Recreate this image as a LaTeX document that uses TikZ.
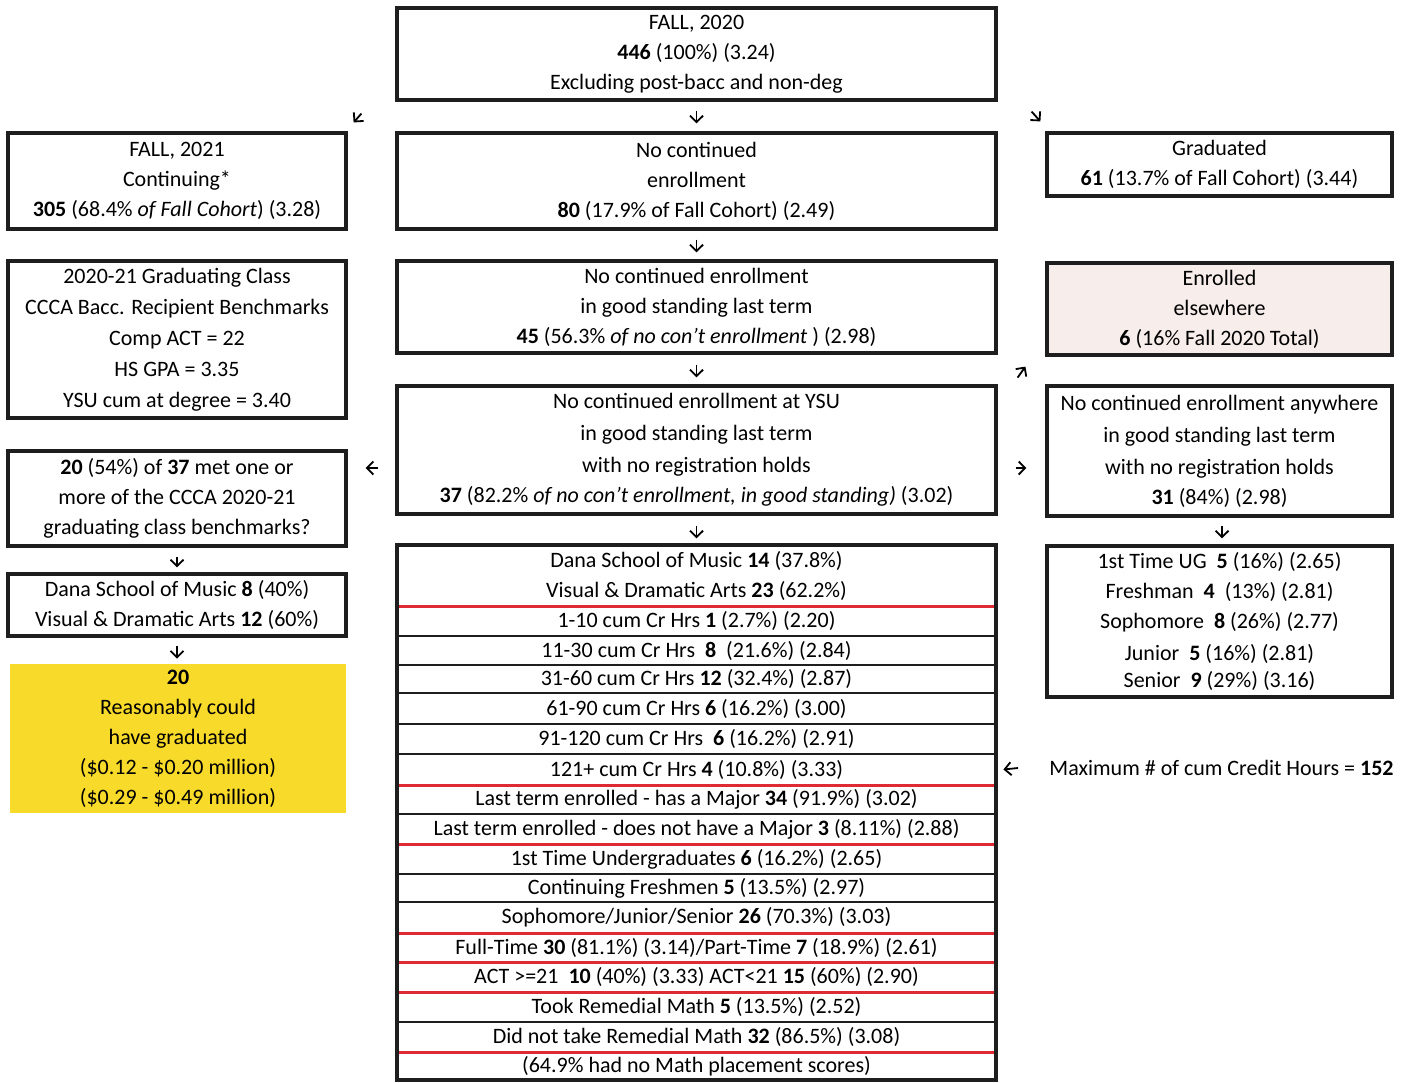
\documentclass[tikz,border=0pt]{standalone}
\usepackage{fontspec}
\setmainfont{Carlito}
\usetikzlibrary{arrows.meta}

\definecolor{boxline}{HTML}{1E1E1E}
\definecolor{sepred}{HTML}{DE2A33}
\definecolor{hilite}{HTML}{F8DA2A}
\definecolor{blush}{HTML}{F7EDEA}

\begin{document}
\begin{tikzpicture}[
  x=0.5pt, y=-0.5pt,
  font=\fontsize{11}{15}\selectfont,
  box/.style={draw=boxline, line width=1.6pt, align=center, inner sep=0pt},
  lbox/.style={box, minimum width=169pt},
  cbox/.style={box, minimum width=299.5pt},
  rbox/.style={box, minimum width=172.5pt},
  row/.style={align=center, inner sep=0pt, minimum width=299.5pt},
  blacksep/.style={draw=boxline, line width=1pt},
  redsep/.style={draw=sepred, line width=1.6pt},
  arr/.style={line width=0.9pt, -{Straight Barb[length=3.2pt, width=6.5pt]}}
]
\useasboundingbox (0,0) rectangle (1408,1082);

% cohort at the top
\node[cbox, minimum height=46pt] (top) at (696.5,54)
  {FALL, 2020\\ \textbf{446} (100\%) (3.24)\\ Excluding post-bacc and non-deg};

% second row
\node[lbox, minimum height=48pt] (cont) at (177,181)
  {FALL, 2021\\ Continuing*\\ \textbf{305} (68.4\% \textit{of Fall Cohort}) (3.28)};
\node[cbox, minimum height=48pt] (noc) at (696.5,181)
  {No continued\\ enrollment\\ \textbf{80} (17.9\% of Fall Cohort) (2.49)};
\node[rbox, minimum height=31.5pt] (grad) at (1219.5,164.5)
  {Graduated\\ \textbf{61} (13.7\% of Fall Cohort) (3.44)};

% third row
\node[lbox, minimum height=78.5pt] (bench) at (177,339.5)
  {2020-21 Graduating Class\\[0.5pt] CCCA Bacc. Recipient Benchmarks\\[0.5pt]
   Comp ACT = 22\\[0.5pt] HS GPA = 3.35\\[0.5pt] YSU cum at degree = 3.40};
\node[cbox, minimum height=46pt] (ngs) at (696.5,307)
  {No continued enrollment\\ in good standing last term\\
   \textbf{45} (56.3\% \textit{of no con't enrollment} ) (2.98)};
\node[rbox, minimum height=46pt, fill=blush] (else) at (1219.5,309)
  {Enrolled\\ elsewhere\\ \textbf{6} (16\% Fall 2020 Total)};

% fourth row
\node[lbox, minimum height=47.5pt] (meet) at (177,498.5)
  {\textbf{20} (54\%) of \textbf{37} met one or\\ more of the CCCA 2020-21\\
   graduating class benchmarks?};
\node[cbox, minimum height=64pt] (ysu) at (696.5,450)
  {No continued enrollment at YSU\\[1pt] in good standing last term\\[1pt]
   with no registration holds\\
   \textbf{37} (82.2\% \textit{of no con't enrollment, in good standing)} (3.02)};
\node[rbox, minimum height=65pt] (any) at (1219.5,451)
  {No continued enrollment anywhere\\[1pt] in good standing last term\\[1pt]
   with no registration holds\\ \textbf{31} (84\%) (2.98)};

% left column, lower part
\node[lbox, minimum height=31pt] (dana) at (177,605)
  {Dana School of Music \textbf{8} (40\%)\\ Visual \& Dramatic Arts \textbf{12} (60\%)};
\node[align=center, inner sep=0pt, fill=hilite, minimum width=168pt,
  minimum height=74.5pt] (could) at (178,738.5)
  {\textbf{20}\\ Reasonably could\\ have graduated\\
   (\$0.12 - \$0.20 million)\\ (\$0.29 - \$0.49 million)};

% right column, lower part
\node[rbox, minimum height=75.5pt] (grades) at (1219.5,621.5)
  {1st Time UG~ \textbf{5} (16\%) (2.65)\\ Freshman~ \textbf{4}~ (13\%) (2.81)\\
   Sophomore~ \textbf{8} (26\%) (2.77)\\[1pt] Junior~ \textbf{5} (16\%) (2.81)\\[-1.5pt]
   Senior~ \textbf{9} (29\%) (3.16)};
\node[anchor=east, inner sep=0pt] (maxhrs) at (1394,768)
  {Maximum \# of cum Credit Hours = \textbf{152}};

% breakdown table
\node[row, minimum height=30.5pt] (ra) at (696.5,575.5)
  {Dana School of Music \textbf{14} (37.8\%)\\ Visual \& Dramatic Arts \textbf{23} (62.2\%)};
\node[row, minimum height=15pt] (r1) at (696.5,621) {1-10 cum Cr Hrs \textbf{1} (2.7\%) (2.20)};
\node[row, minimum height=14.5pt] (r2) at (696.5,650.5) {11-30 cum Cr Hrs~ \textbf{8}~ (21.6\%) (2.84)};
\node[row, minimum height=14pt] (r3) at (696.5,679) {31-60 cum Cr Hrs \textbf{12} (32.4\%) (2.87)};
\node[row, minimum height=15.5pt] (r4) at (696.5,708.5) {61-90 cum Cr Hrs \textbf{6} (16.2\%) (3.00)};
\node[row, minimum height=15pt] (r5) at (696.5,739) {91-120 cum Cr Hrs~ \textbf{6} (16.2\%) (2.91)};
\node[row, minimum height=15.5pt] (r6) at (696.5,769.5) {121+ cum Cr Hrs \textbf{4} (10.8\%) (3.33)};
\node[row, minimum height=14.5pt] (r7) at (696.5,799.5) {Last term enrolled - has a Major \textbf{34} (91.9\%) (3.02)};
\node[row, minimum height=15pt] (r8) at (696.5,829) {Last term enrolled - does not have a Major \textbf{3} (8.11\%) (2.88)};
\node[row, minimum height=15pt] (r9) at (696.5,859) {1st Time Undergraduates \textbf{6} (16.2\%) (2.65)};
\node[row, minimum height=14pt] (r10) at (696.5,888) {Continuing Freshmen \textbf{5} (13.5\%) (2.97)};
\node[row, minimum height=15.5pt] (r11) at (696.5,917.5) {Sophomore/Junior/Senior \textbf{26} (70.3\%) (3.03)};
\node[row, minimum height=14.5pt] (r12) at (696.5,947.5)
  {Full-Time \textbf{30} (81.1\%) (3.14)/Part-Time \textbf{7} (18.9\%) (2.61)};
\node[row, minimum height=15pt] (r13) at (696.5,977)
  {ACT >=21~ \textbf{10} (40\%) (3.33) ACT<21 \textbf{15} (60\%) (2.90)};
\node[row, minimum height=15pt] (r14) at (696.5,1007) {Took Remedial Math \textbf{5} (13.5\%) (2.52)};
\node[row, minimum height=15pt] (r15) at (696.5,1037) {Did not take Remedial Math \textbf{32} (86.5\%) (3.08)};
\node[row, minimum height=14pt] (r16) at (696.5,1066) {(64.9\% had no Math placement scores)};

\draw[redsep] (ra.south west) -- (ra.south east);
\draw[blacksep] (r1.south west) -- (r1.south east);
\draw[blacksep] (r2.south west) -- (r2.south east);
\draw[blacksep] (r3.south west) -- (r3.south east);
\draw[blacksep] (r4.south west) -- (r4.south east);
\draw[blacksep] (r5.south west) -- (r5.south east);
\draw[redsep] (r6.south west) -- (r6.south east);
\draw[blacksep] (r7.south west) -- (r7.south east);
\draw[redsep] (r8.south west) -- (r8.south east);
\draw[blacksep] (r9.south west) -- (r9.south east);
\draw[blacksep] (r10.south west) -- (r10.south east);
\draw[redsep] (r11.south west) -- (r11.south east);
\draw[redsep] (r12.south west) -- (r12.south east);
\draw[redsep] (r13.south west) -- (r13.south east);
\draw[blacksep] (r14.south west) -- (r14.south east);
\draw[redsep] (r15.south west) -- (r15.south east);

\node[cbox, minimum height=267.5pt] (tbl) at (696.5,812.5) {};

% small arrows in the gaps
\draw[arr] ([xshift=-17pt, yshift=-6pt]top.south west) -- ([xshift=3pt, yshift=4.5pt]cont.north east);
\draw[arr] ([yshift=-4.5pt]top.south) -- ([yshift=4pt]noc.north);
\draw[arr] ([xshift=17pt, yshift=-5pt]top.south east) -- ([xshift=-2.5pt, yshift=5pt]grad.north west);
\draw[arr] ([yshift=-4.5pt]noc.south) -- ([yshift=3.5pt]ngs.north);
\draw[arr] ([yshift=-5pt]ngs.south) -- ([yshift=3.5pt]ysu.north);
\draw[arr] ([xshift=10pt, yshift=-11.5pt]ngs.south east) -- ([xshift=-10pt, yshift=-5pt]else.south west);
\draw[arr] ([xshift=-8.5pt, yshift=-9pt]ysu.west) -- ([xshift=9pt, yshift=15.25pt]meet.east);
\draw[arr] ([xshift=9pt, yshift=-9pt]ysu.east) -- ([xshift=-9.5pt, yshift=-8.5pt]any.west);
\draw[arr] ([yshift=-5pt]ysu.south) -- ([yshift=2.5pt]tbl.north);
\draw[arr] ([xshift=1.25pt, yshift=-4pt]any.south) -- ([xshift=1.25pt, yshift=3pt]grades.north);
\draw[arr] ([yshift=-4.5pt]meet.south) -- ([yshift=2.5pt]dana.north);
\draw[arr] ([yshift=-4pt]dana.south) -- ([xshift=-0.5pt, yshift=2.5pt]could.north);
\draw[arr] ([xshift=-15.5pt]maxhrs.west) -- ([xshift=3.5pt]r6.east);
\end{tikzpicture}
\end{document}
